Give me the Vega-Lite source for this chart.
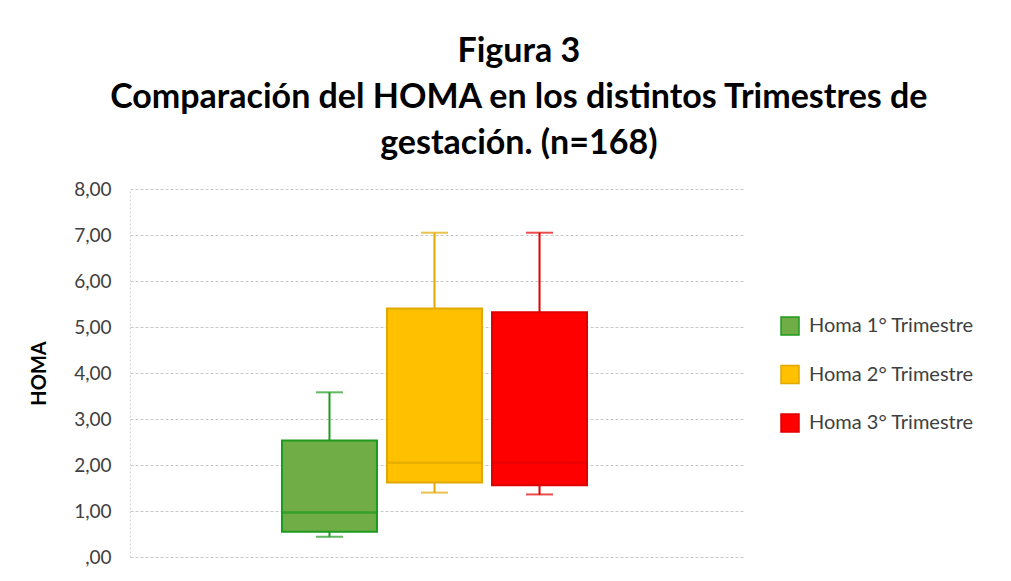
{
  "$schema": "https://vega.github.io/schema/vega-lite/v6.json",
  "width": 615,
  "height": 368,
  "autosize": {"type": "none"},
  "padding": {"left": 130, "top": 189, "right": 266, "bottom": 24},
  "background": "white",
  "title": {
    "text": ["Figura 3", "Comparación del HOMA en los distintos Trimestres de", "gestación. (n=168)"],
    "font": "Lato",
    "fontSize": 34,
    "fontWeight": "bold",
    "lineHeight": 46,
    "color": "#000000",
    "anchor": "middle",
    "frame": "bounds",
    "dx": 17,
    "offset": 19
  },
  "data": {
    "values": [
      {"grupo": "HOMA", "serie": "Homa 1° Trimestre", "min": 0.44, "q1": 0.55, "median": 0.97, "q3": 2.53, "max": 3.58},
      {"grupo": "HOMA", "serie": "Homa 2° Trimestre", "min": 1.40, "q1": 1.62, "median": 2.05, "q3": 5.40, "max": 7.05},
      {"grupo": "HOMA", "serie": "Homa 3° Trimestre", "min": 1.36, "q1": 1.56, "median": 2.05, "q3": 5.32, "max": 7.05}
    ]
  },
  "encoding": {
    "x": {
      "field": "grupo",
      "type": "nominal",
      "scale": {"paddingInner": 0, "paddingOuter": 0.476, "align": 0.49},
      "axis": null
    },
    "xOffset": {
      "field": "serie",
      "type": "nominal",
      "scale": {"paddingInner": 0, "paddingOuter": 0}
    }
  },
  "layer": [
    {
      "mark": {"type": "rule", "strokeWidth": 2},
      "encoding": {
        "y": {
          "field": "min",
          "type": "quantitative",
          "scale": {"domain": [0, 8], "nice": false},
          "axis": {
            "title": "HOMA",
            "titleFont": "Lato",
            "titleFontSize": 20,
            "titleFontWeight": "bold",
            "titleColor": "#000000",
            "titlePadding": 24,
            "values": [0, 1, 2, 3, 4, 5, 6, 7, 8],
            "labelExpr": "datum.value == 0 ? ',00' : replace(format(datum.value, '.2f'), '.', ',')",
            "labelFont": "Lato",
            "labelFontSize": 19,
            "labelColor": "#404040",
            "labelPadding": 19,
            "ticks": false,
            "tickSize": 0,
            "domain": true,
            "domainColor": "#d4d4d4",
            "domainDash": [2, 2],
            "grid": true,
            "gridColor": "#c8c8c8",
            "gridDash": [3, 2],
            "gridWidth": 1
          }
        },
        "y2": {"field": "max"},
        "color": {
          "field": "serie",
          "type": "nominal",
          "scale": {"range": ["#1E9B1E", "#E0A800", "#E00000"]},
          "legend": null
        }
      }
    },
    {
      "mark": {"type": "bar", "strokeWidth": 2, "width": 95},
      "encoding": {
        "y": {"field": "q1", "type": "quantitative"},
        "y2": {"field": "q3"},
        "fill": {
          "field": "serie",
          "type": "nominal",
          "scale": {"range": ["#70AD47", "#FFC000", "#FF0000"]},
          "legend": {
            "title": null,
            "orient": "none",
            "legendX": 650,
            "legendY": 127,
            "symbolType": "square",
            "symbolSize": 324,
            "symbolStrokeWidth": 1.5,
            "labelFont": "Lato",
            "labelFontSize": 20,
            "labelColor": "#404040",
            "labelOffset": 9,
            "labelLimit": 250,
            "rowPadding": 24.5
          }
        },
        "stroke": {
          "field": "serie",
          "type": "nominal",
          "scale": {"range": ["#1E9B1E", "#E0A800", "#E00000"]},
          "legend": {
            "title": null,
            "orient": "none",
            "legendX": 650,
            "legendY": 127,
            "symbolType": "square",
            "symbolSize": 324,
            "symbolStrokeWidth": 1.5,
            "labelFont": "Lato",
            "labelFontSize": 20,
            "labelColor": "#404040",
            "labelOffset": 9,
            "labelLimit": 250,
            "rowPadding": 24.5
          }
        }
      }
    },
    {
      "mark": {"type": "tick", "size": 95, "thickness": 2.5, "orient": "horizontal"},
      "encoding": {
        "y": {"field": "median", "type": "quantitative"},
        "color": {"field": "serie", "type": "nominal", "legend": null}
      }
    },
    {
      "mark": {"type": "tick", "size": 27, "thickness": 2, "orient": "horizontal"},
      "encoding": {
        "y": {"field": "min", "type": "quantitative"},
        "color": {"field": "serie", "type": "nominal", "legend": null}
      }
    },
    {
      "mark": {"type": "tick", "size": 27, "thickness": 2, "orient": "horizontal"},
      "encoding": {
        "y": {"field": "max", "type": "quantitative"},
        "color": {"field": "serie", "type": "nominal", "legend": null}
      }
    }
  ],
  "config": {
    "view": {"stroke": null},
    "font": "Lato"
  }
}
